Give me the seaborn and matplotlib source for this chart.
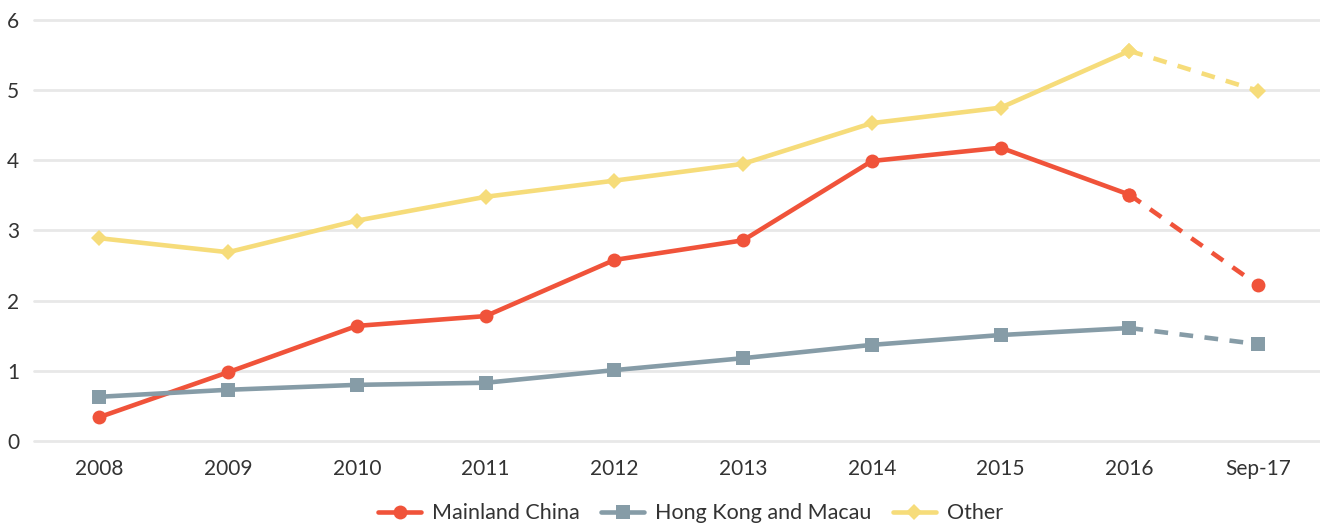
import numpy as np
import pandas as pd
import seaborn as sns
import matplotlib.pyplot as plt
from matplotlib.lines import Line2D

periods = ["2008", "2009", "2010", "2011", "2012", "2013", "2014", "2015", "2016", "Sep-17"]
mainland = [0.34, 0.98, 1.64, 1.78, 2.58, 2.86, 3.99, 4.18, 3.51, 2.22]
hk_macau = [0.63, 0.73, 0.80, 0.83, 1.01, 1.18, 1.37, 1.51, 1.61, 1.38]
other = [2.89, 2.69, 3.14, 3.48, 3.71, 3.95, 4.53, 4.75, 5.56, 4.99]

series = [
    ("Mainland China", mainland, "#F0533A", "o", 10),
    ("Hong Kong and Macau", hk_macau, "#869CA7", "s", 10),
    ("Other", other, "#F6DC7A", "D", 8),
]

sns.set_theme(style="white")
plt.rcParams["font.family"] = ["Lato", "DejaVu Sans"]

fig = plt.figure(figsize=(13.2, 5.25), dpi=100)
ax = fig.add_axes([0.026, 0.16, 0.974, 0.802])

pos = np.arange(len(periods))
for name, vals, col, mk, ms in series:
    df = pd.DataFrame({"x": pos, "y": vals})
    # last step (2016 -> Sep-17) is drawn dashed
    sns.lineplot(data=df.iloc[:9], x="x", y="y", color=col, lw=3.3,
                 marker=mk, markersize=ms, markeredgewidth=0, ax=ax, zorder=3)
    sns.lineplot(data=df.iloc[8:], x="x", y="y", color=col, lw=3.3,
                 linestyle=(0, (3, 2.5)), marker=mk, markersize=ms,
                 markeredgewidth=0, ax=ax, zorder=3)

ax.set_xlim(-0.505, 9.48)
ax.set_ylim(0, 6)
ax.set_yticks(range(0, 7))
ax.set_xticks(pos)
ax.set_xticklabels(periods)
ax.set_xlabel("")
ax.set_ylabel("")
ax.grid(axis="y", color="#E8E8E8", lw=2)
for g in ax.get_ygridlines():
    g.set_clip_on(False)
ax.set_axisbelow(True)
sns.despine(ax=ax, left=True, bottom=True)
ax.tick_params(axis="both", length=0, labelsize=15, colors="#333333")
ax.tick_params(axis="x", pad=13)
ax.tick_params(axis="y", pad=11)

handles = [Line2D([], [], color=col, lw=3.3, marker=mk, markersize=ms,
                  markeredgewidth=0) for _, _, col, mk, ms in series]
fig.legend(handles, [s[0] for s in series], loc="center", ncol=3,
           bbox_to_anchor=(0.523, 0.022), frameon=False, fontsize=15.5,
           labelcolor="#333333", handlelength=2.0, columnspacing=1.0,
           handletextpad=0.5)

fig.savefig("out.png", dpi=100)
